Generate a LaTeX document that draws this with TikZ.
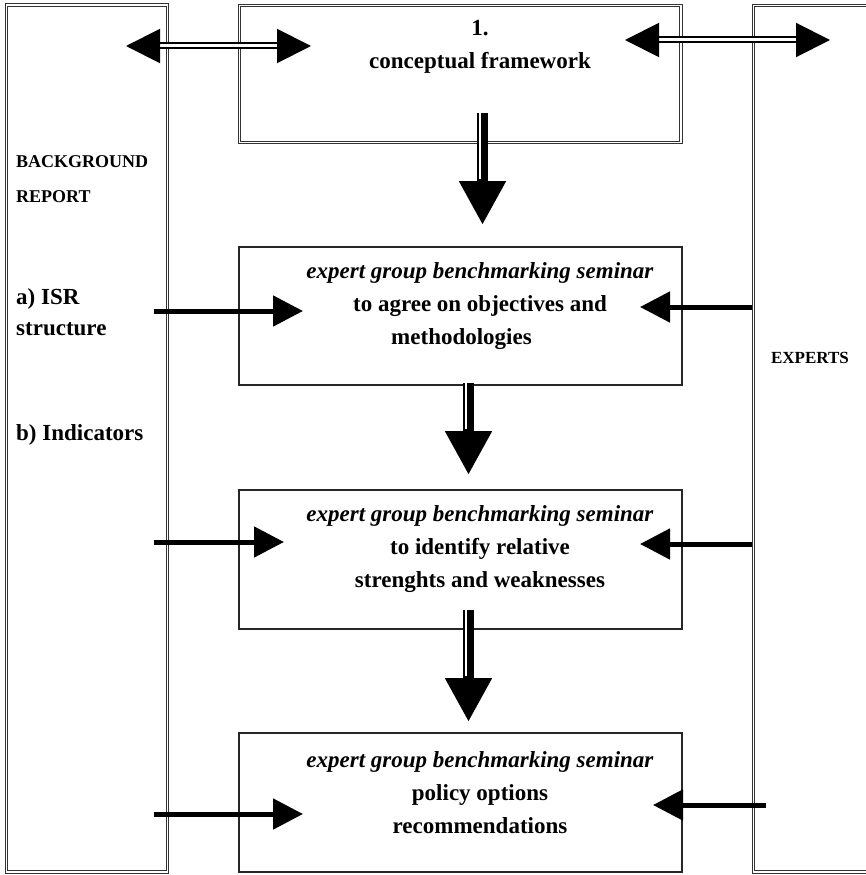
\documentclass[tikz,border=0pt]{standalone}
\usepackage{fontspec}
\setmainfont{Liberation Serif}
\usetikzlibrary{arrows.meta}
\tikzset{
    dblbox/.style={draw=black!80,double,double distance=1.5pt,line width=0.9pt,inner sep=0pt},
    seminar/.style={draw=black!85,line width=1.2pt,inner sep=0pt,minimum width=443pt},
    bigtext/.style={font=\fontsize{23}{33}\selectfont\bfseries,align=center,inner sep=0pt},
    sidetext/.style={font=\fontsize{23}{31}\selectfont\bfseries,align=left,inner sep=0pt,anchor=west},
    smalltext/.style={font=\fontsize{18}{35}\selectfont\bfseries,align=left,inner sep=0pt},
    twoway/.style={{Triangle[length=34pt,width=34pt]}-{Triangle[length=34pt,width=34pt]},double,double distance=3pt,line width=2pt},
    feed/.style={-{Triangle[length=30pt,width=30pt]},line width=5pt},
    flow/.style={-{Triangle[length=44pt,width=44pt]},line width=11.6pt},
    flowgap/.style={white,line width=1.7pt,shorten >=46pt,transform canvas={xshift=-2.6pt}}
}
\begin{document}
\begin{tikzpicture}[x=1pt,y=-1pt]
        \useasboundingbox (0,0) rectangle (865,875);
        \node[dblbox,minimum width=161pt,minimum height=867pt] (bg) at (87,438.5) {};
        \node[dblbox,minimum width=441.5pt,minimum height=137pt] (frame) at (460.25,74) {};
        \node[dblbox,minimum width=146.5pt,minimum height=866.5pt] (exp) at (826.75,438.75) {};
        \node[seminar,minimum height=138pt] (sem1) at (460.5,316) {};
        \node[seminar,minimum height=139pt] (sem2) at (460.5,559.5) {};
        \node[seminar,minimum height=139pt] (sem3) at (460.5,802.5) {};
        \node[bigtext] (frame-txt) at (480,47) {1.\\conceptual framework};
        \node[bigtext] (sem1-txt) at (480,306) {\textit{expert group benchmarking seminar}\\to agree on objectives and\\methodologies\hspace*{37pt}};
        \node[bigtext] (sem2-txt) at (480,549) {\textit{expert group benchmarking seminar}\\to identify relative\\strenghts and weaknesses};
        \node[bigtext] (sem3-txt) at (480,793) {\textit{expert group benchmarking seminar}\\policy options\\recommendations};
        \node[smalltext,anchor=west] (bg-txt) at (16,179.5) {BACKGROUND\\REPORT};
        \node[sidetext] (isr) at (16,312.5) {a) ISR\\structure};
        \node[sidetext] (ind) at (16,434.5) {b) Indicators};
        \node[smalltext,font=\fontsize{17}{20}\selectfont\bfseries] (exp-txt) at (810,358) {EXPERTS};
        \coordinate (bg-top) at (126,46);
        \coordinate (fr-left) at (311,46);
        \coordinate (fr-right) at (625,40);
        \coordinate (exp-top) at (830,40);
        \draw[twoway] (bg-top) -- (fr-left);
        \draw[twoway] (fr-right) -- (exp-top);
        \coordinate (bg-1) at (154,311);
        \coordinate (bg-2) at (154,542);
        \coordinate (bg-3) at (154,814);
        \coordinate (sem1-w) at (303,311);
        \coordinate (sem2-w) at (284,542);
        \coordinate (sem3-w) at (303,814);
        \coordinate (exp-1) at (752,307);
        \coordinate (exp-2) at (752,544);
        \coordinate (exp-3) at (766,805);
        \coordinate (sem1-e) at (640,307);
        \coordinate (sem2-e) at (640,544);
        \coordinate (sem3-e) at (653,805);
        \draw[feed] (bg-1) -- (sem1-w);
        \draw[feed] (bg-2) -- (sem2-w);
        \draw[feed] (bg-3) -- (sem3-w);
        \draw[feed] (exp-1) -- (sem1-e);
        \draw[feed] (exp-2) -- (sem2-e);
        \draw[feed] (exp-3) -- (sem3-e);
        \coordinate (fr-out) at (482.5,113);
        \coordinate (sem1-in) at (482.5,225);
        \coordinate (sem1-out) at (468.5,383);
        \coordinate (sem2-in) at (468.5,475);
        \coordinate (sem2-out) at (468.5,610);
        \coordinate (sem3-in) at (468.5,722);
        \draw[flow] (fr-out) -- (sem1-in);
        \draw[flow] (sem1-out) -- (sem2-in);
        \draw[flow] (sem2-out) -- (sem3-in);
        \draw[flowgap] (fr-out) -- (sem1-in);
        \draw[flowgap] (sem1-out) -- (sem2-in);
        \draw[flowgap] (sem2-out) -- (sem3-in);
    \end{tikzpicture}
\end{document}
